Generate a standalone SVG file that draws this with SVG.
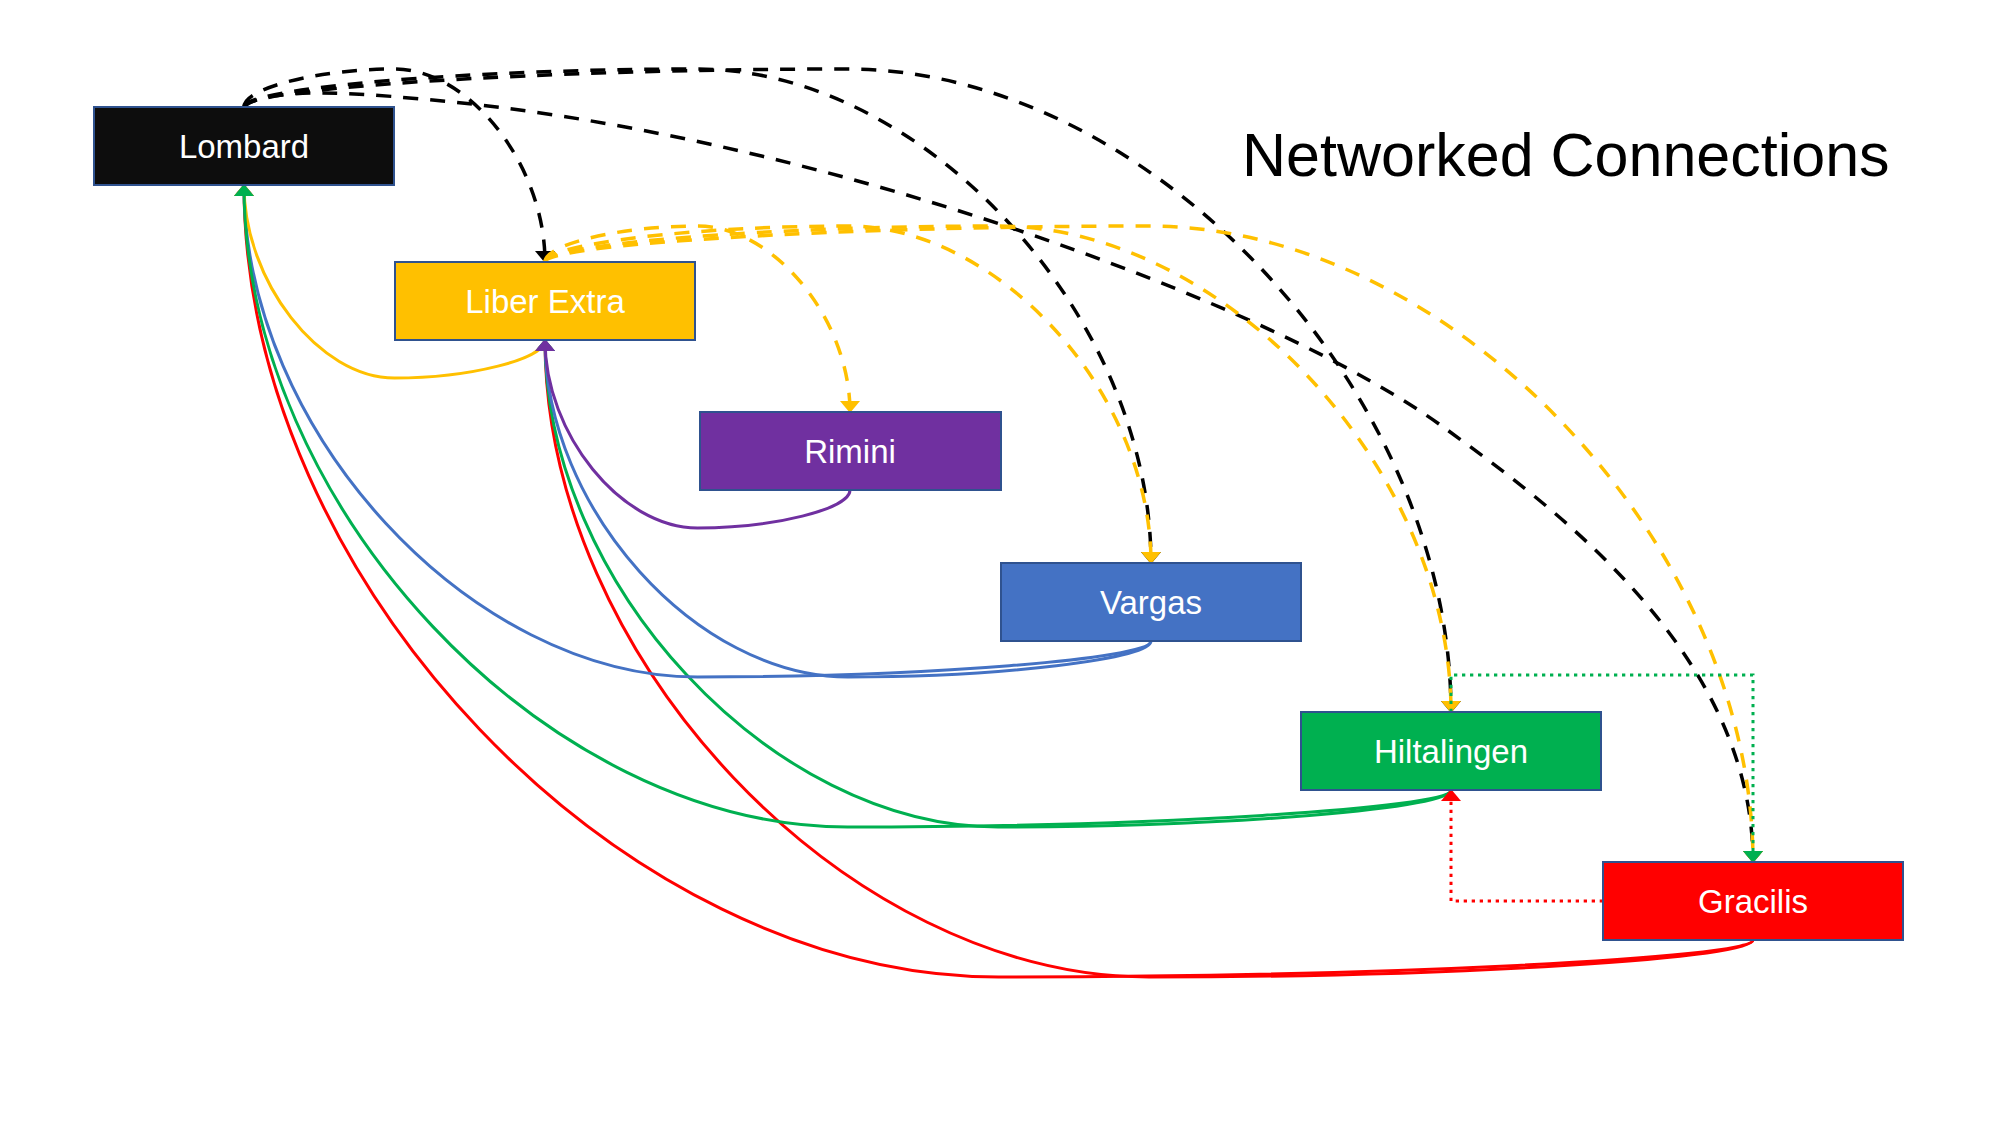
<svg xmlns="http://www.w3.org/2000/svg" width="2000" height="1125" viewBox="0 0 2000 1125">
<style>
.box{stroke:#2F528F;stroke-width:2}
.lbl{font-family:"Liberation Sans",Arial,sans-serif;font-size:33px;fill:#fff;text-anchor:middle}
.title{font-family:"Liberation Sans",Arial,sans-serif;font-size:61px;fill:#000}
.c{fill:none;stroke-width:3}
.dash{stroke-width:3.5;stroke-dasharray:15 12}
.dot{stroke-dasharray:3.3 4.7}
</style>
<defs>
<marker id="mk" viewBox="0 0 12 20" refX="11" refY="10" markerWidth="12" markerHeight="20" markerUnits="userSpaceOnUse" orient="auto"><path d="M0,0 L12,10 L0,20z" fill="#000"/></marker>
<marker id="my" viewBox="0 0 12 20" refX="11" refY="10" markerWidth="12" markerHeight="20" markerUnits="userSpaceOnUse" orient="auto"><path d="M0,0 L12,10 L0,20z" fill="#FFC000"/></marker>
<marker id="mg" viewBox="0 0 12 20" refX="11" refY="10" markerWidth="12" markerHeight="20" markerUnits="userSpaceOnUse" orient="auto"><path d="M0,0 L12,10 L0,20z" fill="#00B050"/></marker>
<marker id="mr" viewBox="0 0 12 20" refX="11" refY="10" markerWidth="12" markerHeight="20" markerUnits="userSpaceOnUse" orient="auto"><path d="M0,0 L12,10 L0,20z" fill="#FF0000"/></marker>
<marker id="mp" viewBox="0 0 12 20" refX="11" refY="10" markerWidth="12" markerHeight="20" markerUnits="userSpaceOnUse" orient="auto"><path d="M0,0 L12,10 L0,20z" fill="#7030A0"/></marker>
<marker id="mb" viewBox="0 0 12 20" refX="11" refY="10" markerWidth="12" markerHeight="20" markerUnits="userSpaceOnUse" orient="auto"><path d="M0,0 L12,10 L0,20z" fill="#4472C4"/></marker>
</defs>
<rect width="2000" height="1125" fill="#fff"/>
<text class="title" x="1242" y="176">Networked Connections</text>
<g id="connectors">
<path class="c" stroke="#FF0000" marker-end="url(#mr)" d="M1753,940 C1753,958.5 1375.75,977 998.5,977 C621.25,977 244,581 244,185"/>
<path class="c" stroke="#FF0000" marker-end="url(#mr)" d="M1753,940 C1753,958.5 1451,977 1149,977 C847,977 545,658.5 545,340"/>
<path class="c" stroke="#00B050" marker-end="url(#mg)" d="M1451,790 C1451,808.5 1224.5,827 998,827 C771.5,827 545,583.5 545,340"/>
<path class="c" stroke="#4472C4" marker-end="url(#mb)" d="M1151,641 C1151,659 924.25,677 697.5,677 C470.75,677 244,431 244,185"/>
<path class="c" stroke="#4472C4" marker-end="url(#mb)" d="M1151,641 C1151,659 999.5,677 848,677 C696.5,677 545,508.5 545,340"/>
<path class="c" stroke="#FFC000" marker-end="url(#my)" d="M545,340 C545,359 469.75,378 394.5,378 C319.25,378 244,281.5 244,185"/>
<path class="c" stroke="#7030A0" marker-end="url(#mp)" d="M850,490 C850,509 773.75,528 697.5,528 C621.25,528 545,434 545,340"/>
<path class="c" stroke="#00B050" marker-end="url(#mg)" d="M1451,790 C1451,808.5 1149.25,827 847.5,827 C545.75,827 244,506 244,185"/>
<path class="c dash" stroke="#000" marker-end="url(#mk)" d="M244,107 C244,88 319.25,69 394.5,69 C469.75,69 545,165.5 545,262"/>
<path class="c dash" stroke="#000" marker-end="url(#mk)" d="M244,107 C244,88 470.75,69 697.5,69 C924.25,69 1151,316 1151,563"/>
<path class="c dash" stroke="#000" marker-end="url(#mk)" d="M244,107 C244,88 545.75,69 847.5,69 C1149.25,69 1451,390.5 1451,712"/>
<path class="c dash" stroke="#000" marker-end="url(#mk)" d="M244,107 C262,90 330,90 420,99 C800,130 1270,300 1446,429 C1546,502 1753,650 1753,862"/>
<path class="c dash" stroke="#FFC000" marker-end="url(#my)" d="M545,262 C545,244 621.25,226 697.5,226 C773.75,226 850,319 850,412"/>
<path class="c dash" stroke="#FFC000" marker-end="url(#my)" d="M545,262 C545,244 696.5,226 848,226 C999.5,226 1151,394.5 1151,563"/>
<path class="c dash" stroke="#FFC000" marker-end="url(#my)" d="M545,262 C545,244 771.5,226 998,226 C1224.5,226 1451,469 1451,712"/>
<path class="c dash" stroke="#FFC000" marker-end="url(#my)" d="M545,262 C545,244 847,226 1149,226 C1451,226 1753,544 1753,862"/>
<path class="c dot" stroke="#00B050" marker-end="url(#mg)" d="M1451,712 L1451,675 L1753,675 L1753,862"/>
<path class="c dot" stroke="#FF0000" marker-end="url(#mr)" d="M1603,901 L1451,901 L1451,790"/>
</g>
<g id="lombard"><rect class="box" x="94" y="107" width="300" height="78" fill="#0D0D0D"/><text class="lbl" x="244" y="158">Lombard</text></g>
<g id="liber-extra"><rect class="box" x="395" y="262" width="300" height="78" fill="#FFC000"/><text class="lbl" x="545" y="313">Liber Extra</text></g>
<g id="rimini"><rect class="box" x="700" y="412" width="301" height="78" fill="#7030A0"/><text class="lbl" x="850" y="463">Rimini</text></g>
<g id="vargas"><rect class="box" x="1001" y="563" width="300" height="78" fill="#4472C4"/><text class="lbl" x="1151" y="614">Vargas</text></g>
<g id="hiltalingen"><rect class="box" x="1301" y="712" width="300" height="78" fill="#00B050"/><text class="lbl" x="1451" y="763">Hiltalingen</text></g>
<g id="gracilis"><rect class="box" x="1603" y="862" width="300" height="78" fill="#FF0000"/><text class="lbl" x="1753" y="913">Gracilis</text></g>
</svg>
